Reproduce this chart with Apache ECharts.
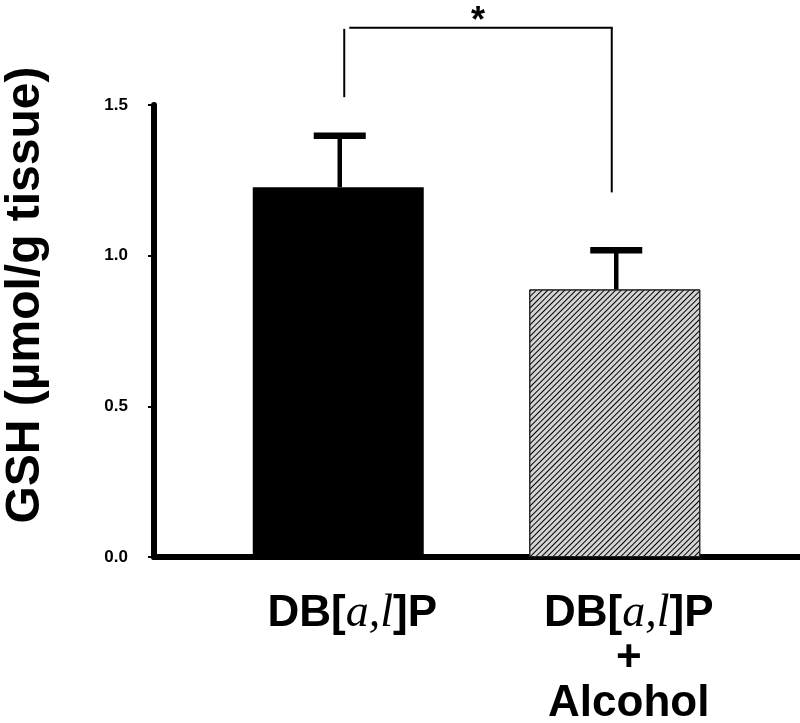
<!DOCTYPE html>
<html>
<head>
<meta charset="utf-8">
<script src="https://cdn.jsdelivr.net/npm/echarts@6/dist/echarts.min.js"></script>
<style>
html,body{margin:0;padding:0;background:#fff;}
#chart{width:800px;height:723px;}
</style>
</head>
<body>
<div id="chart"></div>
<script>
// ---- data ----
const categories = ['DB[a,l]P', 'DB[a,l]P\n+\nAlcohol'];
const gshMean = [1.227, 0.888];
const gshSem = [0.171, 0.130];
const yTicks = [0, 0.5, 1.0, 1.5];
const yTitle = 'GSH (µmol/g tissue)';
// significance bracket (in GSH units)
const bracketTop = 1.756;
const bracketLeftLegBottom = 1.526;
const bracketRightLegBottom = 1.21;
const sigLabel = '*';

const chart = echarts.init(document.getElementById('chart'), null, {renderer: 'canvas'});

function fmtLabel(v) {
  return v.split('\n').map(line =>
    line.replace(/^(.*)\[(a,l)\](.*)$/, '{b|$1[}{i|$2}{b|]$3}')
        .replace(/^([^{].*)$/, '{b|$1}')
  ).join('\n');
}

const errData = gshMean.map((m, i) => [i, m, gshSem[i]]);

const option = {
  animation: false,
  backgroundColor: '#fff',
  grid: [
    {left: 154, right: 0, top: 105, bottom: 166, containLabel: false, outerBoundsMode: 'none'},
    {left: 200, right: 47, top: 105, bottom: 166, containLabel: false, outerBoundsMode: 'none'}
  ],
  xAxis: [
    {
      gridIndex: 0, type: 'value', min: 0, max: 1,
      axisLine: {show: true, lineStyle: {color: '#000', width: 6}},
      axisTick: {show: false}, axisLabel: {show: false}, splitLine: {show: false}
    },
    {
      gridIndex: 1, type: 'category', data: categories,
      axisLine: {show: false}, axisTick: {show: false}, splitLine: {show: false},
      axisLabel: {
        interval: 0, margin: 34,
        formatter: fmtLabel,
        padding: [0, 0, 0, 28],
        rich: {
          b: {fontFamily: '"Liberation Sans", Arial, sans-serif', fontWeight: 'bold', fontSize: 44, color: '#000', lineHeight: 45},
          i: {fontFamily: '"Liberation Serif", "Times New Roman", serif', fontStyle: 'italic', fontSize: 46, color: '#000', lineHeight: 45}
        }
      }
    }
  ],
  yAxis: [
    {
      gridIndex: 0, type: 'value', min: 0, max: 1.5, interval: 0.5,
      axisLine: {show: true, lineStyle: {color: '#000', width: 6}},
      axisTick: {show: true, length: 6, lineStyle: {color: '#000', width: 2}},
      axisLabel: {
        margin: 26, color: '#000', fontSize: 17, fontWeight: 'bold',
        fontFamily: '"Liberation Sans", Arial, sans-serif',
        formatter: v => v.toFixed(1)
      },
      splitLine: {show: false},
      name: yTitle, nameLocation: 'middle', nameRotate: 90, nameGap: 104,
      nameTextStyle: {
        fontSize: 48, fontWeight: 'bold', color: '#000',
        fontFamily: '"Liberation Sans", Arial, sans-serif',
        padding: [0, 0, 0, 72]
      }
    },
    {
      gridIndex: 1, type: 'value', min: 0, max: 1.5, interval: 0.5, show: false
    }
  ],
  series: [
    {
      type: 'bar', xAxisIndex: 1, yAxisIndex: 1, barWidth: 171,
      data: gshMean.map((v, i) => i === 0 ? {
        value: v, itemStyle: {color: '#000'}
      } : {
        value: v,
        itemStyle: {
          color: '#d4d4d4', borderColor: '#222', borderWidth: 1,
          decal: {
            symbol: 'rect', symbolSize: 1,
            dashArrayX: [1, 0], dashArrayY: [1, 2.6],
            rotation: -Math.PI / 4, color: '#000'
          }
        }
      }),
      z: 2
    },
    {
      type: 'custom', xAxisIndex: 1, yAxisIndex: 1, clip: false, z: 3,
      data: errData,
      renderItem: function (params, api) {
        const i = api.value(0);
        const m = api.value(1);
        const s = api.value(2);
        const p0 = api.coord([i, m]);
        const p1 = api.coord([i, m + s]);
        const x = p0[0] + 1.5;
        return {
          type: 'group',
          children: [
            {type: 'line', shape: {x1: x, y1: p0[1], x2: x, y2: p1[1]}, style: {stroke: '#000', lineWidth: 4.5}},
            {type: 'line', shape: {x1: x - 26, y1: p1[1], x2: x + 26, y2: p1[1]}, style: {stroke: '#000', lineWidth: 6.5}}
          ]
        };
      }
    },
    {
      type: 'custom', xAxisIndex: 1, yAxisIndex: 1, clip: false, z: 4,
      data: [[0, 1, bracketTop, bracketLeftLegBottom, bracketRightLegBottom]],
      renderItem: function (params, api) {
        const a = api.coord([api.value(0), api.value(2)]);
        const b = api.coord([api.value(1), api.value(2)]);
        const la = api.coord([api.value(0), api.value(3)]);
        const rb = api.coord([api.value(1), api.value(4)]);
        const xl = a[0] + 6;
        const xr = b[0] - 3;
        const st = {stroke: '#000', lineWidth: 2};
        return {
          type: 'group',
          children: [
            {type: 'line', shape: {x1: xl, y1: a[1] + 1, x2: xl, y2: la[1]}, style: st},
            {type: 'line', shape: {x1: xl + 5, y1: a[1], x2: xr + 1, y2: b[1]}, style: st},
            {type: 'line', shape: {x1: xr, y1: b[1], x2: xr, y2: rb[1]}, style: st},
            {type: 'text', style: {
              x: (xl + xr) / 2, y: a[1] - 24, text: sigLabel,
              fill: '#000', fontSize: 36, fontWeight: 'bold',
              fontFamily: '"Liberation Sans", Arial, sans-serif',
              align: 'center', verticalAlign: 'top'
            }}
          ]
        };
      }
    }
  ]
};
chart.setOption(option);
</script>
</body>
</html>
